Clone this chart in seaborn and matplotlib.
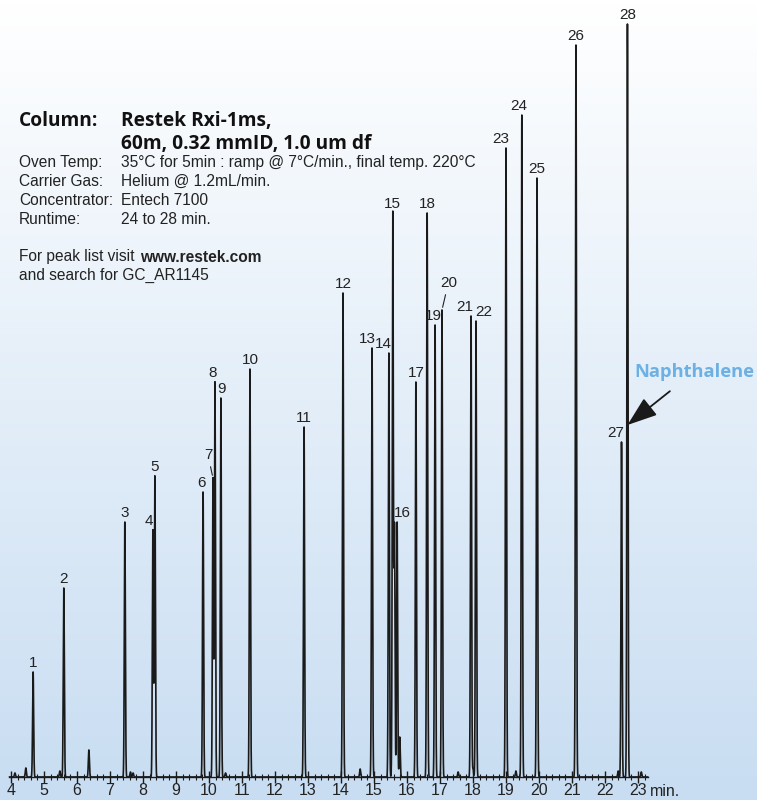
import matplotlib
matplotlib.use("Agg")
import matplotlib.pyplot as plt
from matplotlib.colors import LinearSegmentedColormap
import numpy as np
import pandas as pd
import seaborn as sns

# peak numbers, retention times (min) and heights (detector units)
peak_ids = list(range(1, 29))
peak_times = [4.67, 5.60, 7.45, 8.30, 8.36, 9.82, 10.12, 10.18, 10.36, 11.24,
              12.88, 14.06, 14.94, 15.45, 15.57, 15.70, 16.27, 16.61, 16.85, 17.06,
              17.94, 18.09, 19.00, 19.48, 19.94, 21.12, 22.50, 22.68]
peak_heights = [105, 189, 255, 247, 301, 285, 299, 395, 379, 408,
                350, 484, 429, 424, 564, 255, 395, 564, 452, 467,
                461, 456, 629, 662, 599, 732, 335, 753]

# unlabelled small peaks
minor_times = [4.12, 4.45, 5.48, 6.36, 7.62, 7.70, 10.50, 14.58, 15.62, 15.78, 17.55, 18.00, 19.30, 22.40, 23.10]
minor_heights = [4, 9, 6, 27, 5, 4, 4, 8, 250, 40, 5, 8, 6, 6, 5]

tick_minutes = list(range(4, 24))

sns.set_theme(style="white")
plt.rcParams['font.family'] = ['Liberation Sans', 'DejaVu Sans']

fig = plt.figure(figsize=(7.57, 8.0), dpi=100)

# background gradient
bg = fig.add_axes([0, 0, 1, 1], zorder=0)
cmap = LinearSegmentedColormap.from_list("bg", ["#ffffff", "#c8ddf2"])
bg.imshow(np.linspace(0, 1, 256).reshape(-1, 1), aspect="auto", cmap=cmap,
          extent=[0, 1, 0, 1], origin="upper")
bg.set_axis_off()

ax = fig.add_axes([0, 23 / 800, 1, 777 / 800], zorder=1)
ax.patch.set_alpha(0)

t = np.linspace(3.95, 23.3, 40000)
sigma = 0.016
signal = np.zeros_like(t)
for t0, h in zip(peak_times + minor_times, peak_heights + minor_heights):
    signal += h * np.exp(-0.5 * ((t - t0) / sigma) ** 2)
trace = pd.DataFrame({"time": t, "signal": signal})
sns.lineplot(data=trace, x="time", y="signal", ax=ax, color="#1a1a1a",
             linewidth=1.2, estimator=None, sort=False)

ax.set_xlim(4 - 11 / 33, 4 + (757 - 11) / 33)
ax.set_ylim(0, 777)
ax.set_xlabel("")
ax.set_ylabel("")
for s in ["top", "right", "left"]:
    ax.spines[s].set_visible(False)
ax.spines["bottom"].set_bounds(3.95, 23.3)
ax.spines["bottom"].set_color("#1a1a1a")
ax.spines["bottom"].set_linewidth(1.0)
ax.set_yticks([])
ax.set_xticks(tick_minutes)
ax.set_xticks(np.arange(4, 23.31, 0.2), minor=True)
ax.tick_params(axis="x", which="major", direction="inout", length=8, width=1,
               color="#1a1a1a", labelsize=11.5, labelcolor="#222222", pad=0,
               bottom=True)
ax.tick_params(axis="x", which="minor", direction="inout", length=4, width=0.8,
               color="#1a1a1a", bottom=True)
ax.text(23.35, -7, "min.", fontsize=11.5, color="#222222", ha="left", va="top")

# peak labels: pixel offsets of the label from the peak top
label_shift = {4: (-4, 0), 6: (-2, 0), 7: (-5, 14), 8: (-2, 0), 9: (1, 0),
               13: (-5, 0), 14: (-5, 0), 16: (5, 0), 19: (-2, 0), 20: (7, 18),
               21: (-6, 0), 22: (8, 0), 23: (-5, 0), 24: (-3, 0), 27: (-6, 0)}
for pid, t0, h in zip(peak_ids, peak_times, peak_heights):
    dx, dy = label_shift.get(pid, (0, 0))
    ax.annotate(str(pid), xy=(t0, h), xytext=(dx, dy + 2), textcoords="offset pixels",
                ha="center", va="bottom", fontsize=11, color="#222222")
# leader lines for crowded labels
for pid in (7, 20):
    i = pid - 1
    dx, dy = label_shift[pid]
    ax.annotate("", xy=(peak_times[i], peak_heights[i]), xytext=(dx * 0.6, dy),
                textcoords="offset pixels",
                arrowprops=dict(arrowstyle="-", color="#222222", lw=0.8))

# Naphthalene arrow
ax.annotate("Naphthalene", xy=(22.68, 777 - 425), xytext=(694, 800 - 372),
            textcoords="figure pixels", xycoords="data",
            ha="center", va="center", fontsize=13.2, fontweight="bold",
            family="Open Sans", color="#6db0e3",
            arrowprops=dict(arrowstyle="-|>,head_length=1.4,head_width=0.5",
                            color="#1a1a1a", lw=1.3, shrinkA=8, shrinkB=0))

# method text block
def fy(py):
    return 1 - py / 800

head = dict(fontsize=13.8, fontweight="bold", family="Open Sans",
            color="#111111", va="center")
fig.text(19 / 757, fy(121), "Column:", **head)
fig.text(121 / 757, fy(121), "Restek Rxi-1ms,", **head)
fig.text(121 / 757, fy(144), "60m, 0.32 mmID, 1.0 um df", **head)
rows = [("Oven Temp:", "35\u00b0C for 5min : ramp @ 7\u00b0C/min., final temp. 220\u00b0C"),
        ("Carrier Gas:", "Helium @ 1.2mL/min."),
        ("Concentrator:", "Entech 7100"),
        ("Runtime:", "24 to 28 min.")]
body = dict(fontsize=11.2, color="#222222", va="center")
for k, (name, val) in enumerate(rows):
    y = fy(163 + k * 18.7)
    fig.text(19 / 757, y, name, **body)
    fig.text(121 / 757, y, val, **body)
fig.text(19 / 757, fy(257), "For peak list visit", **body)
fig.text(140 / 757, fy(257), "www.restek.com", fontweight="bold", **body)
fig.text(19 / 757, fy(275), "and search for GC_AR1145", **body)

fig.savefig("out.png", dpi=100)
